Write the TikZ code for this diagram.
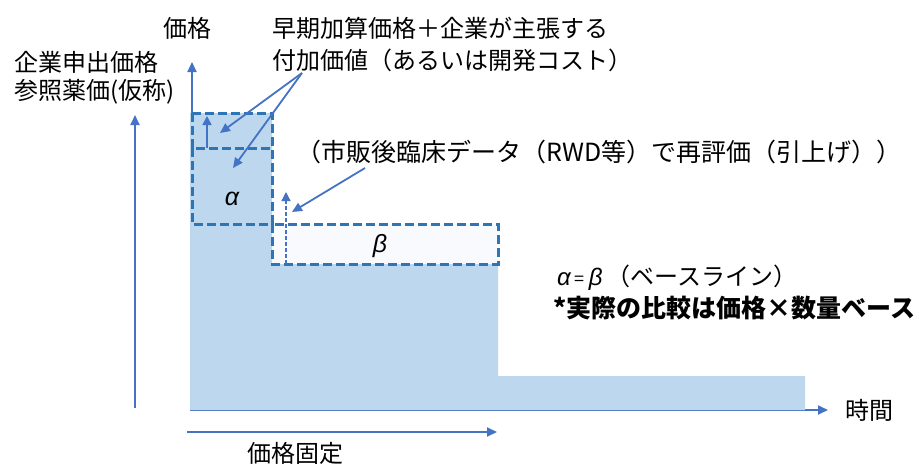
\documentclass[tikz,border=0pt]{standalone}
\usepackage{fontspec}
\setmainfont{Noto Sans CJK JP}
\newfontfamily\latf{Liberation Sans}
\usetikzlibrary{arrows.meta}
\definecolor{fillblue}{HTML}{BDD7EE}
\definecolor{dashblue}{HTML}{2E75B6}
\definecolor{arrblue}{HTML}{4472C4}
\definecolor{paleblue}{HTML}{F8FAFE}
\begin{document}
\begin{tikzpicture}[x=1pt,y=-1pt,
 lbl/.style={font=\fontsize{24}{30}\selectfont, inner sep=0pt, anchor=west, align=left},
 greek/.style={font=\fontsize{25}{28}\selectfont\latf\itshape, inner sep=0pt},
 dbox/.style={draw=dashblue, line width=3pt, dash pattern=on 9pt off 4pt},
 arr/.style={draw=arrblue, line width=1.8pt, -{Triangle[length=10pt,width=9pt]}},
 thin arr/.style={draw=arrblue, line width=1.5pt, -{Triangle[length=9pt,width=9pt]}},
]
\useasboundingbox (0,0) rectangle (919,467);
% axes
\coordinate (origin) at (192,410);
\coordinate (ytip) at (192,62);
\coordinate (xtip) at (828,410);
\draw[arr] (origin) -- (ytip);
\draw[arr] (190,410) -- (xtip);
% fill
\fill[fillblue] (190,113) -- (272,113) -- (272,264) -- (498,264) -- (498,376) -- (805,376) -- (805,410) -- (190,410) -- cycle;
\fill[paleblue] (272,224) rectangle (498,264);
% dashed boxes
\draw[dbox] (192,113) rectangle (272,148);
\draw[dbox] (192,148) rectangle (272,224);
\draw[dbox] (272,224) rectangle (498,264);
% small arrows
\coordinate (a1s) at (207,148);
\coordinate (a1e) at (207,116);
\draw[thin arr] (a1s) -- (a1e);
\coordinate (b1s) at (286,264);
\coordinate (b1e) at (286,192);
\draw[draw=arrblue, line width=1.3pt, dash pattern=on 4pt off 2pt, -{Triangle[length=9pt,width=9pt]}] (b1s) -- (b1e);
% labels
\node[lbl] (kakaku) at (163,28) {価格};
\node[lbl] (kigyo) at (14,62) {企業申出価格};
\node[lbl] (sansho) at (14,92) {参照薬価(仮称)};
\node[lbl] (early1) at (272,28) {早期加算価格＋企業が主張する};
\node[lbl] (early2) at (272,60) {付加価値（あるいは開発コスト）};
\node[lbl, font=\fontsize{25}{30}\selectfont] (rwd) at (296,152) {（市販後臨床データ（RWD等）で再評価（引上げ））};
\node[greek] (alpha) at (232,199) {α};
\node[greek] (beta) at (380,246) {β};
\node[lbl] (eq) at (557,278) {{\latf\itshape α}\,{\fontsize{18}{20}\selectfont =}\,{\latf\itshape β}\,（ベースライン）};
\node[lbl, font=\fontsize{25}{28}\selectfont\bfseries] (note) at (553,308) {*実際の比較は価格×数量ベース};
\node[lbl] (jikan) at (845,410) {時間};
\node[lbl] (kotei) at (247,453) {価格固定};
% left arrow
\coordinate (lb) at (135,408);
\coordinate (lt) at (135,115);
\draw[arr] (lb) -- (lt);
% fixed price arrow
\coordinate (fs) at (187,432);
\coordinate (fe) at (497,432);
\draw[arr] (fs) -- (fe);
% annotation arrows
\coordinate (e2src) at (302,73);
\coordinate (t1) at (220,133);
\coordinate (t2) at (233,168);
\draw[arr] (e2src) -- (t1);
\draw[arr] (e2src) -- (t2);
\coordinate (rsrc) at (365,168);
\coordinate (rt) at (292,212);
\draw[arr] (rsrc) -- (rt);
\end{tikzpicture}
\end{document}
